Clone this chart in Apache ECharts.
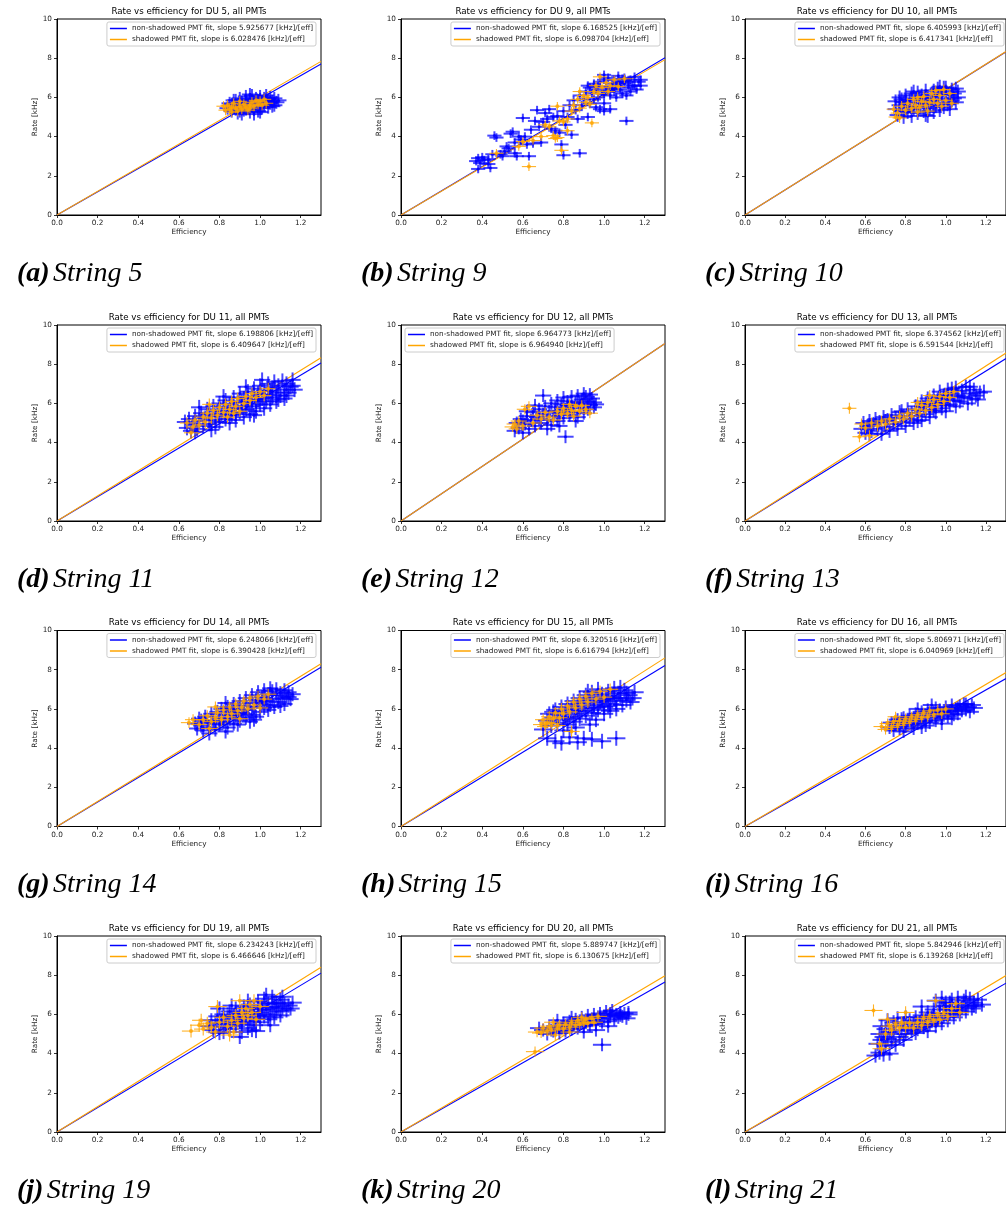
<!DOCTYPE html>
<html><head><meta charset="utf-8">
<script src="https://cdn.jsdelivr.net/npm/echarts@6/dist/echarts.min.js"></script>
<style>html,body{margin:0;padding:0;background:#fff}#c{width:1006px;height:1208px}</style>
</head><body><div id="c"></div>
<script>
// ---------- DATA ----------
const duNumbers = [5, 9, 10, 11, 12, 13, 14, 15, 16, 19, 20, 21];
const panelLetters = ['a','b','c','d','e','f','g','h','i','j','k','l'];
const slopeNonShadowed = [5.925677, 6.168525, 6.405993, 6.198806, 6.964773, 6.374562, 6.248066, 6.320516, 5.806971, 6.234243, 5.889747, 5.842946];
const slopeShadowed    = [6.028476, 6.098704, 6.417341, 6.409647, 6.964940, 6.591544, 6.390428, 6.616794, 6.040969, 6.466646, 6.130675, 6.139268];
const xTickValues = [0.0, 0.2, 0.4, 0.6, 0.8, 1.0, 1.2];
const yTickValues = [0, 2, 4, 6, 8, 10];
// per-panel error bar half-widths [efficiency, rate]
const blueErr   = [[0.04,0.33],[0.035,0.22],[0.04,0.35],[0.04,0.38],[0.04,0.33],[0.04,0.36],[0.04,0.36],[0.045,0.38],[0.045,0.33],[0.045,0.36],[0.045,0.33],[0.045,0.36]];
const orangeErr = [[0.035,0.26],[0.035,0.22],[0.035,0.26],[0.035,0.3],[0.04,0.26],[0.035,0.28],[0.04,0.28],[0.04,0.3],[0.04,0.26],[0.045,0.33],[0.045,0.26],[0.045,0.31]];

const blue5 = [[0.84,5.45],[0.85,5.7],[0.86,5.3],[0.87,5.55],[0.87,5.85],[0.88,5.4],[0.89,5.65],[0.89,5.2],[0.90,5.95],[0.90,5.5],[0.91,5.75],[0.92,5.35],[0.92,5.6],[0.93,5.85],[0.93,6.05],[0.94,5.45],[0.94,5.7],[0.95,5.25],[0.95,5.9],[0.96,5.55],[0.96,6.1],[0.97,5.75],[0.97,5.4],[0.98,5.95],[0.98,5.6],[0.99,5.3],[0.99,5.85],[1.00,5.65],[1.00,6.05],[1.01,5.45],[1.01,5.8],[1.02,5.95],[1.02,5.6],[1.03,5.75],[1.03,6.1],[1.04,5.5],[1.04,5.9],[1.05,5.7],[1.05,6.0],[1.06,5.8],[1.07,5.6],[1.07,5.95],[1.08,5.75],[0.91,5.15],[0.97,5.15],[1.00,5.25],[0.88,5.85],[0.86,5.65],[0.93,5.4],[1.00,5.9],[1.06,5.55],[1.09,5.85],[0.95,6.15],[0.90,5.3]];
const orange5 = [[0.82,5.55],[0.83,5.35],[0.84,5.6],[0.85,5.4],[0.86,5.25],[0.86,5.5],[0.87,5.7],[0.88,5.45],[0.89,5.3],[0.90,5.55],[0.91,5.4],[0.92,5.65],[0.93,5.5],[0.94,5.35],[0.95,5.6],[0.96,5.75],[0.97,5.55],[0.98,5.85],[0.99,5.65],[1.00,5.8],[1.01,5.6],[1.02,5.9],[1.03,5.7],[0.90,5.8],[0.95,5.45]];

const blue9 = [[0.37,2.75],[0.38,2.9],[0.39,2.65],[0.40,2.95],[0.41,2.8],[0.38,2.35],[0.43,2.6],[0.44,2.4],[0.43,2.85],[0.45,3.1],[0.46,4.05],[0.47,3.95],[0.49,3.1],[0.50,3.0],[0.51,3.25],[0.52,3.5],[0.53,3.4],[0.54,4.15],[0.55,4.25],[0.56,3.15],[0.56,3.7],[0.57,3.0],[0.58,4.0],[0.59,3.85],[0.60,4.95],[0.61,4.0],[0.62,3.6],[0.63,3.0],[0.64,4.35],[0.65,3.65],[0.66,4.8],[0.67,5.35],[0.68,4.5],[0.69,3.7],[0.70,4.75],[0.71,5.2],[0.72,4.9],[0.73,5.4],[0.74,4.4],[0.75,5.0],[0.76,4.3],[0.77,5.05],[0.78,4.2],[0.79,3.6],[0.80,3.05],[0.80,5.3],[0.81,4.6],[0.82,5.0],[0.83,5.6],[0.84,4.1],[0.85,5.85],[0.86,5.35],[0.87,4.9],[0.88,3.15],[0.88,6.1],[0.89,5.6],[0.90,5.9],[0.91,6.3],[0.92,5.0],[0.92,6.6],[0.93,5.7],[0.94,6.2],[0.95,6.7],[0.96,5.5],[0.96,6.4],[0.97,6.0],[0.98,6.8],[0.99,6.3],[1.00,6.9],[1.00,5.7],[1.01,6.5],[1.02,6.4],[1.02,7.0],[1.03,6.1],[1.04,6.7],[1.05,6.9],[1.05,6.3],[1.06,6.6],[1.07,7.1],[1.08,6.4],[1.08,6.8],[1.09,6.2],[1.10,6.7],[1.10,7.0],[1.11,4.8],[1.12,6.5],[1.13,6.9],[1.14,6.6],[1.15,7.05],[1.16,6.4],[1.17,6.8],[1.18,6.6],[0.98,5.4],[1.00,5.3],[1.03,5.4],[0.95,5.9],[1.06,6.0],[0.97,6.55],[1.00,6.15],[1.04,6.45],[1.07,6.75],[1.09,6.95],[1.12,6.8],[1.15,6.6],[1.18,6.9],[1.13,6.3],[0.93,6.5],[1.00,7.15],[1.11,6.1]];
const orange9 = [[0.47,3.15],[0.58,3.5],[0.60,3.75],[0.63,2.47],[0.65,3.8],[0.69,4.0],[0.71,4.6],[0.73,4.5],[0.75,4.05],[0.76,3.9],[0.77,3.95],[0.78,4.8],[0.79,3.3],[0.80,4.75],[0.82,4.9],[0.84,5.3],[0.85,5.6],[0.87,5.9],[0.88,5.45],[0.90,6.1],[0.91,5.75],[0.92,6.0],[0.94,4.7],[0.95,6.3],[0.96,6.6],[0.97,6.2],[0.98,7.05],[0.99,6.5],[1.01,6.75],[1.02,6.3],[1.03,6.6],[1.05,6.9],[1.07,6.55],[1.10,6.95],[0.77,5.55],[0.82,4.3],[0.88,6.3],[0.93,5.65]];

const blue10 = [[0.75,5.4],[0.75,5.8],[0.76,5.1],[0.77,5.6],[0.77,6.0],[0.78,5.3],[0.79,5.75],[0.79,5.0],[0.80,5.5],[0.80,6.1],[0.81,5.25],[0.82,5.85],[0.82,5.55],[0.83,6.2],[0.83,5.05],[0.84,5.4],[0.85,5.95],[0.85,5.7],[0.86,5.2],[0.86,6.25],[0.87,5.5],[0.88,5.85],[0.88,6.1],[0.89,5.3],[0.90,5.65],[0.90,6.35],[0.91,5.05],[0.91,5.95],[0.92,5.45],[0.93,6.2],[0.93,5.75],[0.94,5.25],[0.95,6.05],[0.95,5.55],[0.96,6.45],[0.96,5.85],[0.97,5.35],[0.98,6.15],[0.98,5.7],[0.99,6.5],[0.99,5.5],[1.00,5.95],[1.00,6.3],[1.01,5.65],[1.02,6.1],[1.02,5.4],[1.03,6.4],[1.03,5.85],[1.04,6.2],[1.05,5.75],[1.05,6.45],[1.06,6.0],[0.84,6.3],[0.78,5.9],[0.90,5.1],[0.80,5.75],[0.87,5.95],[0.94,6.35],[1.00,6.5],[1.04,5.95],[0.92,5.6],[0.97,6.55],[1.06,6.3]];
const orange10 = [[0.74,5.4],[0.75,5.0],[0.76,5.2],[0.77,4.95],[0.78,5.55],[0.80,5.35],[0.81,5.7],[0.83,5.45],[0.84,5.9],[0.85,5.6],[0.86,5.25],[0.87,5.5],[0.88,5.8],[0.89,6.05],[0.90,5.6],[0.91,5.3],[0.92,5.75],[0.93,6.2],[0.94,5.9],[0.95,6.35],[0.96,5.7],[0.97,6.1],[0.99,6.4],[1.00,5.85],[1.02,6.2],[1.03,5.7],[0.98,5.55],[0.86,6.0]];

const blue11 = [[0.63,5.05],[0.64,4.75],[0.65,5.2],[0.66,4.6],[0.67,4.95],[0.68,5.35],[0.69,4.7],[0.70,5.1],[0.71,5.5],[0.72,4.85],[0.73,5.25],[0.74,5.7],[0.75,4.95],[0.75,5.45],[0.76,5.15],[0.77,5.85],[0.78,5.35],[0.78,4.8],[0.79,5.6],[0.80,5.05],[0.80,6.0],[0.81,5.45],[0.82,5.8],[0.83,5.2],[0.83,6.15],[0.84,5.6],[0.85,5.0],[0.85,5.95],[0.86,5.4],[0.87,6.3],[0.87,5.75],[0.88,5.15],[0.89,6.05],[0.90,5.55],[0.90,6.5],[0.91,5.85],[0.92,5.3],[0.92,6.25],[0.93,5.7],[0.94,6.6],[0.94,6.0],[0.95,5.45],[0.96,6.35],[0.96,5.85],[0.97,6.75],[0.98,6.1],[0.98,5.6],[0.99,6.5],[1.00,5.95],[1.00,6.9],[1.01,6.25],[1.02,5.75],[1.02,6.65],[1.03,6.1],[1.04,7.0],[1.04,6.45],[1.05,5.95],[1.06,6.8],[1.06,6.3],[1.07,7.1],[1.08,6.55],[1.08,6.1],[1.09,6.9],[1.10,6.4],[1.11,7.15],[1.12,6.7],[1.12,6.25],[1.13,7.0],[1.14,6.55],[1.15,6.85],[1.16,7.2],[1.17,6.7],[0.70,5.8],[0.76,4.65],[0.82,6.35],[0.88,5.45],[0.93,6.85],[0.97,5.4],[1.01,7.2],[1.05,6.65],[1.09,6.2],[1.13,6.4],[1.16,6.9],[0.68,4.55],[0.91,6.1],[0.99,6.2]];
const orange11 = [[0.64,5.0],[0.66,4.5],[0.67,4.8],[0.68,5.15],[0.70,4.9],[0.72,5.3],[0.73,5.05],[0.74,5.5],[0.76,5.25],[0.77,5.65],[0.79,5.4],[0.80,5.8],[0.82,5.55],[0.83,5.95],[0.85,5.7],[0.86,6.1],[0.88,5.85],[0.89,6.25],[0.90,5.6],[0.92,6.0],[0.93,6.35],[0.95,6.15],[0.96,6.5],[0.98,6.3],[1.00,6.6],[1.02,6.4],[1.04,6.75],[0.84,5.3],[0.87,5.5],[0.75,5.95]];

const blue12 = [[0.56,4.6],[0.57,5.0],[0.58,4.75],[0.59,5.2],[0.60,4.5],[0.61,4.95],[0.62,5.35],[0.63,4.7],[0.64,5.15],[0.65,5.55],[0.66,4.85],[0.67,5.3],[0.68,5.7],[0.69,5.0],[0.70,6.4],[0.70,5.45],[0.71,5.85],[0.72,5.15],[0.73,5.6],[0.74,6.0],[0.74,4.9],[0.75,5.35],[0.76,5.8],[0.77,5.1],[0.77,6.15],[0.78,5.5],[0.79,5.95],[0.80,5.25],[0.80,6.3],[0.81,4.3],[0.81,5.7],[0.82,6.1],[0.83,5.4],[0.84,5.85],[0.84,6.35],[0.85,5.55],[0.86,6.05],[0.87,5.3],[0.87,6.4],[0.88,5.75],[0.89,6.2],[0.90,5.5],[0.90,5.95],[0.91,6.35],[0.92,5.7],[0.92,6.1],[0.93,5.9],[0.94,6.25],[0.95,5.8],[0.95,6.05],[0.62,5.6],[0.66,5.9],[0.72,4.7],[0.78,4.85],[0.86,5.1],[0.60,5.1],[0.68,5.2],[0.76,5.6],[0.82,5.9],[0.88,6.0],[0.93,6.45],[0.96,5.95],[0.90,6.5]];
const orange12 = [[0.55,4.8],[0.56,4.95],[0.57,4.7],[0.58,5.1],[0.60,4.85],[0.63,5.85],[0.65,5.0],[0.67,5.4],[0.69,5.2],[0.71,5.55],[0.73,5.3],[0.75,5.15],[0.77,5.6],[0.79,5.45],[0.80,5.75],[0.82,5.5],[0.83,5.95],[0.84,5.65],[0.85,5.35],[0.86,5.85],[0.88,5.6],[0.89,5.9],[0.91,5.7],[0.93,5.5],[0.61,5.7]];

const blue13 = [[0.58,4.7],[0.59,5.0],[0.60,4.5],[0.61,4.85],[0.62,5.1],[0.63,4.6],[0.64,4.95],[0.65,5.2],[0.66,4.7],[0.67,5.05],[0.68,4.45],[0.69,5.3],[0.70,4.8],[0.71,5.15],[0.72,4.6],[0.73,5.4],[0.74,4.95],[0.75,5.25],[0.76,4.7],[0.77,5.55],[0.78,5.05],[0.79,5.35],[0.80,4.85],[0.81,5.7],[0.82,5.2],[0.83,5.5],[0.84,5.0],[0.85,5.85],[0.86,5.35],[0.87,5.65],[0.88,6.1],[0.88,5.15],[0.89,5.8],[0.90,5.45],[0.91,6.25],[0.92,5.65],[0.92,5.3],[0.93,6.0],[0.94,6.4],[0.95,5.55],[0.95,5.9],[0.96,6.2],[0.97,6.6],[0.98,5.75],[0.98,6.05],[0.99,6.4],[1.00,5.6],[1.01,6.25],[1.01,6.7],[1.02,5.95],[1.03,6.5],[1.04,6.15],[1.05,6.8],[1.05,5.85],[1.06,6.4],[1.07,6.1],[1.08,6.65],[1.09,6.3],[1.10,6.85],[1.11,6.0],[1.12,6.5],[1.13,6.25],[1.14,6.7],[1.15,6.4],[1.17,6.55],[0.62,4.45],[0.70,5.1],[0.78,5.6],[0.86,5.1],[0.90,6.0],[0.97,6.3],[1.00,5.9],[1.03,6.75],[1.08,6.35],[1.12,6.85],[1.16,6.2],[1.19,6.6],[0.94,5.65]];
const orange13 = [[0.52,5.75],[0.57,4.3],[0.58,4.95],[0.60,4.75],[0.62,4.35],[0.63,5.0],[0.66,4.85],[0.68,5.1],[0.70,4.95],[0.72,5.2],[0.75,5.05],[0.77,5.35],[0.79,5.2],[0.81,5.5],[0.83,5.35],[0.85,5.7],[0.87,5.5],[0.88,5.9],[0.90,5.65],[0.91,6.05],[0.93,5.8],[0.94,6.2],[0.96,5.95],[0.97,6.35],[0.99,6.1],[1.00,6.5],[1.02,6.3],[1.04,6.6],[0.86,6.05],[0.92,6.4]];

const blue14 = [[0.68,5.25],[0.69,5.0],[0.70,5.5],[0.71,5.15],[0.72,4.9],[0.73,5.6],[0.74,5.3],[0.75,5.05],[0.76,5.75],[0.77,5.4],[0.78,4.95],[0.79,5.85],[0.80,5.55],[0.80,5.2],[0.81,6.0],[0.82,5.35],[0.83,5.7],[0.84,5.05],[0.84,6.1],[0.85,5.5],[0.86,5.85],[0.87,5.25],[0.87,6.25],[0.88,5.65],[0.89,6.0],[0.90,5.4],[0.90,6.4],[0.91,5.8],[0.92,6.15],[0.93,5.55],[0.93,6.55],[0.94,5.95],[0.95,6.3],[0.96,5.7],[0.96,6.7],[0.97,6.1],[0.98,6.45],[0.98,5.6],[0.99,6.85],[1.00,6.25],[1.00,5.85],[1.01,6.6],[1.02,6.05],[1.02,6.95],[1.03,6.4],[1.04,6.75],[1.04,5.95],[1.05,6.2],[1.06,6.9],[1.06,6.5],[1.07,6.1],[1.08,6.7],[1.08,7.0],[1.09,6.35],[1.10,6.8],[1.11,6.55],[1.12,6.95],[1.12,6.25],[1.13,6.65],[1.14,6.85],[1.15,6.5],[0.75,4.75],[0.83,4.85],[0.95,5.35],[0.71,5.4],[0.78,5.25],[0.83,6.3],[0.89,5.2],[0.92,5.75],[0.97,5.45],[1.01,6.35],[1.05,7.05],[1.10,6.15],[1.14,6.6],[1.16,6.75],[0.87,5.95]];
const orange14 = [[0.65,5.3],[0.67,5.45],[0.70,5.2],[0.72,5.45],[0.74,5.65],[0.75,5.0],[0.76,5.35],[0.78,5.55],[0.79,5.8],[0.81,5.45],[0.82,5.95],[0.84,5.6],[0.85,6.1],[0.86,5.75],[0.88,6.25],[0.89,5.9],[0.90,5.5],[0.91,6.1],[0.92,6.4],[0.94,6.0],[0.95,6.55],[0.97,6.2],[0.99,6.65],[1.00,6.05],[1.02,6.5],[1.04,6.75],[0.78,6.1]];

const blue15 = [[0.72,5.4],[0.73,5.75],[0.74,5.15],[0.75,5.55],[0.76,5.95],[0.77,5.3],[0.78,5.7],[0.79,6.1],[0.80,5.45],[0.81,5.85],[0.82,6.25],[0.82,5.2],[0.83,5.6],[0.84,6.0],[0.85,6.4],[0.85,5.35],[0.86,5.75],[0.87,6.15],[0.88,6.55],[0.88,5.5],[0.89,5.9],[0.90,6.3],[0.91,6.7],[0.91,5.65],[0.92,6.05],[0.93,6.45],[0.94,6.85],[0.94,5.8],[0.95,6.2],[0.96,6.6],[0.97,7.0],[0.97,5.95],[0.98,6.35],[0.99,6.75],[1.00,6.1],[1.00,5.75],[1.01,6.5],[1.02,6.9],[1.03,6.25],[1.03,5.9],[1.04,6.65],[1.05,7.05],[1.06,6.4],[1.06,6.0],[1.07,6.8],[1.08,6.55],[1.09,6.2],[1.10,6.95],[1.11,6.45],[1.12,6.7],[1.13,6.35],[0.72,4.5],[0.76,4.35],[0.79,4.25],[0.83,4.55],[0.87,4.3],[0.90,4.5],[0.94,4.45],[0.99,4.35],[1.06,4.5],[0.80,4.9],[0.86,5.05],[0.93,5.2],[0.70,4.95],[0.75,5.85],[0.81,5.55],[0.87,5.9],[0.92,6.9],[0.95,6.05],[0.99,6.45],[1.02,6.15],[1.05,6.55],[1.08,7.1],[1.11,6.8],[1.14,6.55],[1.15,6.85],[0.96,5.45]];
const orange15 = [[0.69,5.2],[0.70,5.45],[0.71,5.1],[0.72,5.3],[0.73,5.6],[0.74,5.25],[0.75,5.5],[0.76,5.8],[0.78,5.55],[0.79,6.0],[0.80,5.75],[0.82,6.15],[0.83,5.85],[0.85,6.35],[0.86,6.05],[0.88,6.5],[0.89,6.2],[0.91,6.65],[0.92,6.35],[0.94,6.8],[0.96,6.5],[0.98,6.9],[1.00,6.6],[1.03,7.0],[0.84,4.85],[0.77,5.15]];

const blue16 = [[0.72,5.05],[0.73,5.3],[0.74,4.9],[0.75,5.2],[0.76,5.45],[0.77,5.0],[0.78,5.3],[0.79,5.55],[0.80,5.1],[0.81,5.4],[0.82,5.65],[0.83,5.2],[0.84,5.5],[0.85,5.75],[0.86,5.25],[0.87,5.55],[0.88,5.85],[0.88,5.05],[0.89,5.4],[0.90,5.65],[0.91,5.95],[0.92,5.3],[0.93,5.6],[0.94,5.85],[0.95,6.05],[0.95,5.4],[0.96,5.7],[0.97,5.95],[0.98,5.5],[0.99,5.8],[1.00,6.1],[1.01,5.6],[1.02,5.9],[1.03,6.2],[1.04,5.7],[1.05,6.0],[1.06,5.75],[1.07,6.15],[1.08,5.9],[1.09,6.25],[1.10,5.95],[1.11,6.1],[1.12,5.85],[1.13,6.2],[0.79,4.85],[0.84,5.0],[0.90,5.15],[0.98,5.25],[1.03,5.5],[0.86,6.0],[0.93,6.2],[0.78,5.5],[0.92,5.8],[0.97,5.75],[1.01,5.85],[1.06,6.05],[1.10,6.25],[1.14,6.05],[0.85,5.4]];
const orange16 = [[0.68,5.1],[0.70,4.95],[0.71,5.25],[0.73,5.05],[0.74,5.35],[0.76,5.15],[0.77,5.4],[0.79,5.25],[0.80,5.5],[0.82,5.35],[0.83,5.6],[0.85,5.45],[0.86,5.7],[0.88,5.55],[0.89,5.8],[0.91,5.6],[0.92,5.9],[0.94,5.7],[0.96,5.95],[0.98,5.75],[1.00,6.0],[0.75,5.6]];

const blue19 = [[0.75,5.4],[0.76,5.7],[0.77,5.2],[0.78,5.55],[0.79,5.9],[0.80,5.35],[0.81,5.7],[0.82,6.0],[0.82,5.1],[0.83,5.5],[0.84,5.85],[0.85,6.15],[0.85,5.25],[0.86,5.6],[0.87,5.95],[0.88,5.4],[0.88,6.3],[0.89,5.75],[0.90,6.05],[0.91,5.1],[0.91,5.5],[0.92,6.4],[0.93,5.85],[0.93,6.15],[0.94,5.3],[0.95,5.65],[0.95,6.5],[0.96,6.0],[0.97,6.3],[0.97,5.45],[0.98,5.8],[0.99,6.65],[1.00,6.1],[1.00,5.6],[1.01,6.4],[1.02,5.9],[1.02,6.8],[1.03,6.25],[1.04,5.75],[1.04,6.55],[1.05,6.0],[1.06,6.9],[1.06,6.35],[1.07,5.85],[1.08,6.6],[1.08,6.15],[1.09,6.4],[1.10,6.75],[1.10,5.95],[1.11,6.3],[1.12,6.55],[1.13,6.2],[1.14,6.45],[0.90,4.85],[0.98,5.15],[1.05,5.45],[0.80,6.3],[0.80,5.05],[0.86,6.45],[0.90,5.6],[0.94,6.7],[0.99,5.95],[1.03,7.0],[1.07,6.55],[1.11,6.9],[1.15,6.3],[1.16,6.6],[0.96,5.2],[1.01,6.25]];
const orange19 = [[0.66,5.15],[0.70,5.45],[0.71,5.7],[0.72,5.25],[0.74,5.55],[0.76,5.35],[0.78,5.1],[0.79,6.4],[0.80,5.6],[0.82,5.85],[0.84,5.4],[0.86,5.7],[0.87,5.1],[0.88,5.95],[0.89,5.55],[0.90,6.7],[0.91,6.1],[0.92,5.8],[0.93,6.3],[0.94,5.95],[0.95,6.5],[0.96,6.1],[0.97,6.7],[0.98,5.75],[1.00,6.4],[0.85,4.95]];

const blue20 = [[0.70,5.2],[0.72,5.0],[0.73,5.3],[0.75,5.15],[0.76,5.4],[0.78,5.05],[0.79,5.3],[0.80,5.55],[0.81,5.15],[0.82,5.4],[0.83,5.65],[0.84,5.25],[0.85,5.5],[0.86,5.75],[0.87,5.3],[0.88,5.55],[0.89,5.85],[0.90,5.4],[0.91,5.65],[0.92,5.95],[0.93,5.45],[0.94,5.75],[0.95,6.0],[0.96,5.5],[0.97,5.8],[0.98,6.05],[0.99,4.45],[0.99,5.6],[1.00,5.9],[1.01,6.15],[1.02,5.65],[1.03,5.95],[1.04,6.2],[1.05,5.75],[1.06,6.0],[1.07,5.85],[1.08,6.1],[1.09,5.9],[1.10,6.05],[1.11,5.8],[1.12,6.0],[0.84,5.85],[0.90,5.1],[0.96,5.2],[1.02,5.4],[0.77,5.7],[0.68,5.3],[0.80,5.35],[0.86,5.6],[0.93,5.7],[0.98,5.8],[1.03,6.05],[1.08,5.95],[1.12,6.1],[0.74,5.2]];
const orange20 = [[0.66,4.1],[0.67,5.1],[0.69,5.05],[0.70,5.3],[0.72,5.15],[0.73,5.4],[0.74,5.2],[0.75,5.6],[0.77,5.3],[0.78,5.45],[0.80,5.25],[0.81,5.5],[0.83,5.35],[0.84,5.6],[0.86,5.45],[0.87,5.7],[0.88,5.5],[0.89,5.85],[0.90,5.6],[0.91,5.75],[0.92,5.55],[0.94,5.8],[0.95,5.6],[0.97,5.9],[0.83,5.1],[0.76,4.95]];

const blue21 = [[0.65,3.9],[0.67,4.05],[0.69,3.95],[0.70,4.4],[0.71,4.75],[0.72,5.1],[0.66,4.5],[0.67,5.0],[0.68,5.4],[0.69,4.85],[0.70,5.25],[0.71,5.7],[0.73,4.6],[0.74,5.0],[0.75,5.4],[0.76,5.8],[0.77,4.85],[0.78,5.2],[0.79,5.55],[0.80,5.0],[0.81,5.35],[0.82,5.7],[0.83,5.15],[0.84,5.5],[0.85,5.85],[0.86,5.25],[0.87,5.6],[0.88,5.95],[0.89,5.35],[0.90,5.7],[0.91,6.1],[0.91,5.15],[0.92,5.5],[0.93,5.85],[0.94,6.25],[0.95,5.4],[0.96,5.75],[0.97,6.4],[0.97,6.05],[0.98,5.55],[0.99,5.9],[1.00,6.6],[1.00,6.25],[1.01,5.7],[1.02,6.05],[1.03,6.75],[1.03,6.4],[1.04,5.85],[1.05,6.2],[1.06,6.85],[1.06,6.55],[1.07,6.0],[1.08,6.35],[1.09,6.7],[1.10,6.15],[1.11,6.45],[1.12,6.8],[1.13,6.3],[1.14,6.6],[1.15,6.4],[0.72,4.0],[0.75,4.45],[0.79,4.7],[0.95,6.7],[0.98,6.85],[0.88,6.4],[0.74,5.6],[0.80,5.85],[0.85,5.05],[0.90,5.45],[0.94,5.9],[0.99,6.45],[1.02,6.6],[1.06,6.25],[1.10,6.9],[1.14,6.45],[1.16,6.75],[1.18,6.5],[0.68,4.7]];
const orange21 = [[0.64,6.2],[0.67,4.5],[0.68,4.25],[0.70,5.0],[0.72,5.4],[0.73,5.2],[0.75,5.5],[0.77,5.3],[0.78,5.6],[0.80,6.1],[0.80,5.35],[0.82,5.55],[0.84,5.3],[0.86,5.6],[0.88,5.45],[0.89,5.8],[0.91,5.6],[0.92,5.9],[0.94,5.7],[0.95,6.7],[0.96,6.0],[0.97,5.75],[0.99,6.1],[1.01,5.9],[1.03,6.3],[1.05,6.55],[1.07,6.1],[0.71,5.75]];

const blueSets = [blue5, blue9, blue10, blue11, blue12, blue13, blue14, blue15, blue16, blue19, blue20, blue21];
const orangeSets = [orange5, orange9, orange10, orange11, orange12, orange13, orange14, orange15, orange16, orange19, orange20, orange21];

// ---------- LAYOUT ----------
const colLeft = [57, 401, 745];
const rowTop = [19, 325, 630.5, 936];
const plotW = 264, plotH = 196;
const BLUE = '#0000ff', ORANGE = '#ffa500';
const fontSans = 'DejaVu Sans';

function errRender(color, w) {
  return function (params, api) {
    const x = api.value(0), y = api.value(1), ex = api.value(2), ey = api.value(3);
    const a = api.coord([x - ex, y]), b = api.coord([x + ex, y]);
    const c = api.coord([x, y - ey]), d = api.coord([x, y + ey]);
    return { type: 'group', children: [
      { type: 'line', shape: { x1: a[0], y1: a[1], x2: b[0], y2: b[1] }, style: { stroke: color, lineWidth: w } },
      { type: 'line', shape: { x1: c[0], y1: c[1], x2: d[0], y2: d[1] }, style: { stroke: color, lineWidth: w } }
    ]};
  };
}

const grids = [], xAxes = [], yAxes = [], series = [], legends = [], graphics = [];
for (let i = 0; i < 12; i++) {
  const col = i % 3, row = Math.floor(i / 3);
  const L = colLeft[col], T = rowTop[row];
  grids.push({ left: L, top: T, width: plotW, height: plotH, show: true, borderColor: '#000', borderWidth: 1, backgroundColor: '#fff', containLabel: false });
  xAxes.push({
    gridIndex: i, type: 'value', min: 0, max: 1.3, interval: 0.2,
    name: 'Efficiency', nameLocation: 'middle', nameGap: 14,
    nameTextStyle: { fontSize: 7.3, color: '#222', fontFamily: fontSans },
    axisLine: { show: true, onZero: false, lineStyle: { color: '#000', width: 1 } },
    axisTick: { show: true, length: 3, lineStyle: { color: '#000', width: 0.8 }, customValues: xTickValues },
    axisLabel: { fontSize: 7.3, color: '#222', margin: 5, fontFamily: fontSans,
      customValues: xTickValues, formatter: v => (Math.abs(v - 1.3) < 1e-6 ? '' : v.toFixed(1)) },
    splitLine: { show: false }
  });
  yAxes.push({
    gridIndex: i, type: 'value', min: 0, max: 10, interval: 2,
    name: 'Rate [kHz]', nameLocation: 'middle', nameGap: 18, nameRotate: 90,
    nameTextStyle: { fontSize: 7.3, color: '#222', fontFamily: fontSans },
    axisLine: { show: true, onZero: false, lineStyle: { color: '#000', width: 1 } },
    axisTick: { show: true, length: 3, lineStyle: { color: '#000', width: 0.8 }, customValues: yTickValues },
    axisLabel: { fontSize: 7.3, color: '#222', margin: 5, fontFamily: fontSans, customValues: yTickValues },
    splitLine: { show: false }
  });
  const nNon = 'non-shadowed PMT fit, slope ' + slopeNonShadowed[i].toFixed(6) + ' [kHz]/[eff]';
  const nSh = 'shadowed PMT fit, slope is ' + slopeShadowed[i].toFixed(6) + ' [kHz]/[eff]';
  series.push({ name: nNon, type: 'line', xAxisIndex: i, yAxisIndex: i, symbol: 'none', silent: true, z: 1,
    lineStyle: { color: BLUE, width: 1.1 }, itemStyle: { color: BLUE },
    data: [[0, 0], [1.3, slopeNonShadowed[i] * 1.3]] });
  series.push({ name: nSh, type: 'line', xAxisIndex: i, yAxisIndex: i, symbol: 'none', silent: true, z: 1,
    lineStyle: { color: ORANGE, width: 1.1 }, itemStyle: { color: ORANGE },
    data: [[0, 0], [1.3, slopeShadowed[i] * 1.3]] });
  const be = blueErr[i], oe = orangeErr[i];
  series.push({ type: 'custom', xAxisIndex: i, yAxisIndex: i, z: 2, silent: true,
    renderItem: errRender('rgba(0,0,255,0.72)', 2.0), encode: { x: 0, y: 1 },
    data: blueSets[i].map(p => [p[0], p[1], be[0], be[1]]) });
  series.push({ type: 'scatter', xAxisIndex: i, yAxisIndex: i, z: 3, silent: true, symbolSize: 3,
    itemStyle: { color: BLUE }, data: blueSets[i] });
  series.push({ type: 'custom', xAxisIndex: i, yAxisIndex: i, z: 4, silent: true,
    renderItem: errRender('rgba(255,165,0,0.85)', 1.1), encode: { x: 0, y: 1 },
    data: orangeSets[i].map(p => [p[0], p[1], oe[0], oe[1]]) });
  series.push({ type: 'scatter', xAxisIndex: i, yAxisIndex: i, z: 5, silent: true, symbolSize: 4,
    itemStyle: { color: ORANGE }, data: orangeSets[i] });
  const lg = { orient: 'vertical', top: T + 3, itemWidth: 17, itemHeight: 1.5, itemGap: 4,
    data: [{ name: nNon, icon: 'rect' }, { name: nSh, icon: 'rect' }],
    padding: [3, 3, 3, 3], selectedMode: false, backgroundColor: 'rgba(255,255,255,0.8)',
    borderColor: '#ccc', borderWidth: 1, borderRadius: 2,
    textStyle: { fontSize: 7.3, color: '#222', fontFamily: fontSans } };
  if (i === 4) lg.left = L + 4; else lg.right = 1006 - (L + plotW - 5);
  legends.push(lg);
  graphics.push({ type: 'text', x: L + plotW / 2, y: T - 7.5, silent: true,
    style: { text: 'Rate vs efficiency for DU ' + duNumbers[i] + ', all PMTs', fill: '#000', fontSize: 8.7, fontFamily: fontSans, textAlign: 'center', textVerticalAlign: 'middle' } });
  graphics.push({ type: 'text', x: 17 + col * 344, y: T + 254.5, silent: true,
    style: { text: '{b|(' + panelLetters[i] + ')} {t|String ' + duNumbers[i] + '}', textVerticalAlign: 'middle',
      rich: { b: { fontSize: 28, fontFamily: 'Liberation Serif', fontStyle: 'italic', fontWeight: 'bold', fill: '#000' },
              t: { fontSize: 28, fontFamily: 'Liberation Serif', fontStyle: 'italic', fill: '#000' } } } });
}

const chart = echarts.init(document.getElementById('c'), null, { renderer: 'canvas' });
chart.setOption({ animation: false, backgroundColor: '#fff', grid: grids, xAxis: xAxes, yAxis: yAxes, legend: legends, series: series, graphic: graphics });
</script></body></html>
